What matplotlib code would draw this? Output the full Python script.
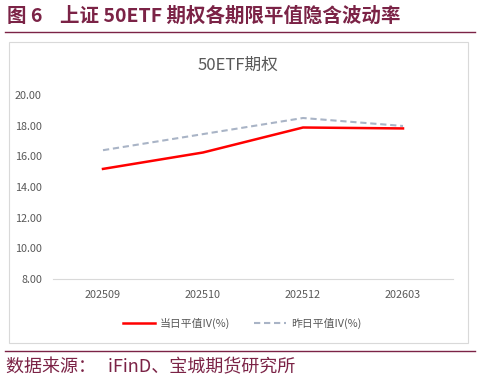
import matplotlib.pyplot as plt
from matplotlib.patches import Rectangle
from matplotlib.lines import Line2D

plt.rcParams['font.family'] = ['Noto Sans CJK SC', 'DejaVu Sans']

# 数据
months = ['202509', '202510', '202512', '202603']
iv_today = [15.18, 16.25, 17.88, 17.82]
iv_yesterday = [16.40, 17.45, 18.50, 17.98]
y_ticks = [8, 10, 12, 14, 16, 18, 20]

maroon = '#7B2346'
grey_text = '#595959'

fig = plt.figure(figsize=(4.81, 3.82), dpi=100)
W, H = 481, 382

def fx(px):
    return px / W

def fy(py):
    return 1 - py / H

# 标题与分隔线
fig.text(fx(7), fy(16), '图 6    上证 50ETF 期权各期限平值隐含波动率', color=maroon,
         fontsize=14, fontweight='bold', va='center', ha='left')
fig.add_artist(Line2D([fx(5), fx(475)], [fy(32), fy(32)], color=maroon, lw=1.0))
fig.add_artist(Line2D([fx(5), fx(475)], [fy(351), fy(351)], color=maroon, lw=1.0))
fig.text(fx(6), fy(367), '数据来源：   iFinD、宝城期货研究所', color=maroon,
         fontsize=13, va='center', ha='left')

# 图表外框
fig.add_artist(Rectangle((fx(9), fy(343)), fx(459), (343 - 42) / H,
                         transform=fig.transFigure, fill=False, ec='#D9D9D9', lw=0.8))
fig.text(fx(238), fy(65), '50ETF期权', color=grey_text, fontsize=12, ha='center', va='center')

ax = fig.add_axes([fx(53), fy(279), fx(400), (279 - 95) / H])
x = range(len(months))
ax.plot(x, iv_today, color='#FF0000', lw=1.8, label='当日平值IV(%)')
ax.plot(x, iv_yesterday, color='#A9B4C6', lw=1.5, ls=(0, (3, 1.8)), label='昨日平值IV(%)')

ax.set_xlim(-0.5, len(months) - 0.5)
ax.set_ylim(8, 20)
ax.set_xticks(list(x))
ax.set_xticklabels(months)
ax.set_yticks(y_ticks)
ax.set_yticklabels([f'{v:.2f}' for v in y_ticks])
ax.tick_params(length=0, labelsize=7.8, colors=grey_text, pad=8)
for s in ['top', 'right', 'left']:
    ax.spines[s].set_visible(False)
ax.spines['bottom'].set_color('#D9D9D9')
ax.spines['bottom'].set_linewidth(0.8)
ax.patch.set_visible(False)

fig.legend(loc='center', bbox_to_anchor=(fx(242), fy(323)), ncol=2, frameon=False,
           fontsize=7.8, labelcolor=grey_text, handlelength=3.0, handletextpad=0.4,
           columnspacing=2.2)

fig.savefig('out.png', dpi=100)
